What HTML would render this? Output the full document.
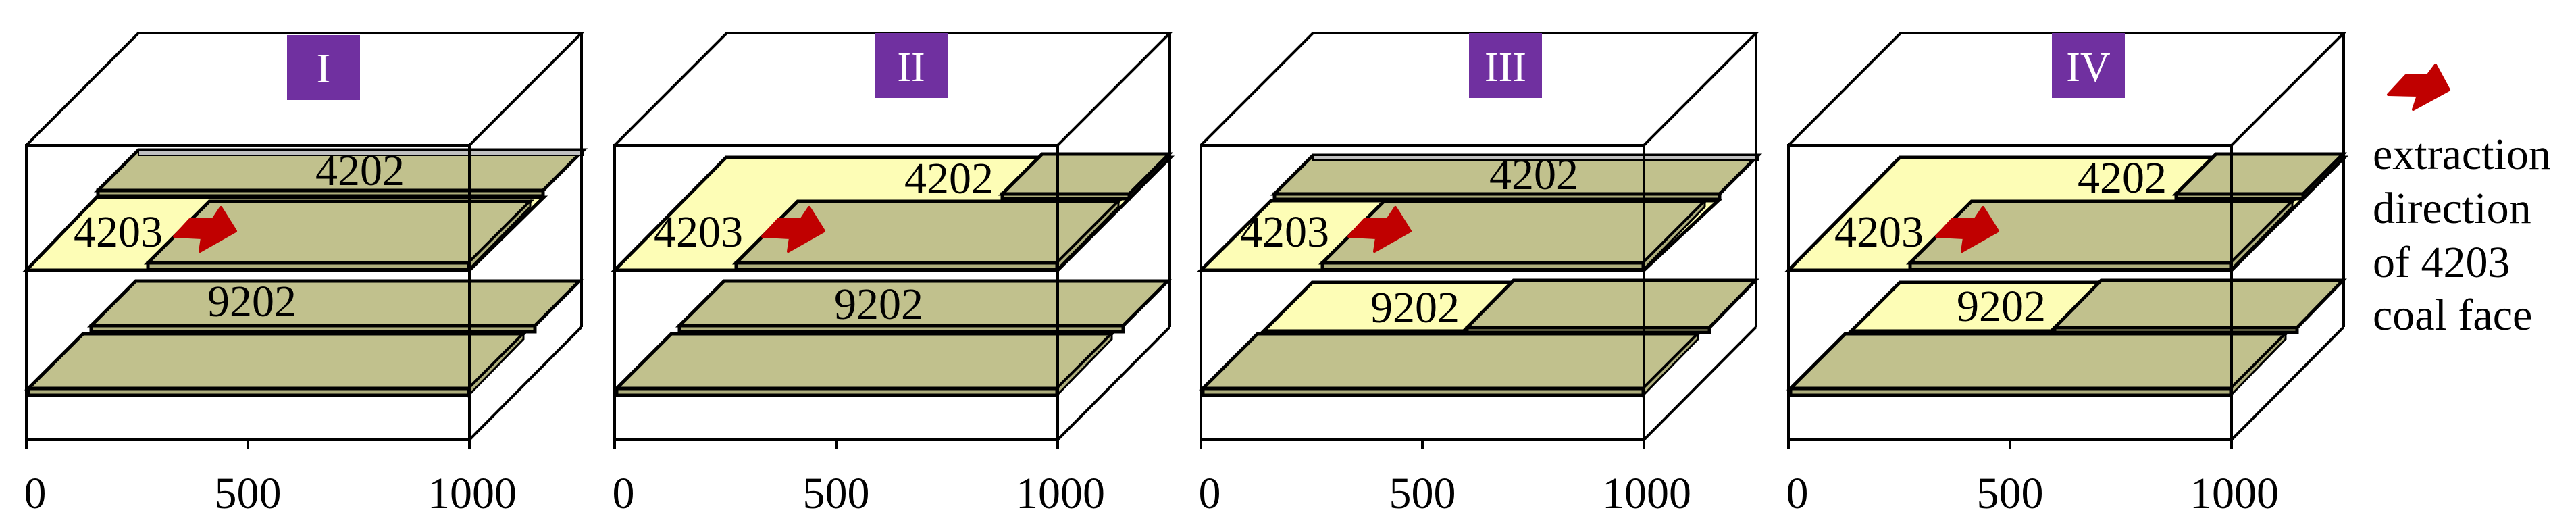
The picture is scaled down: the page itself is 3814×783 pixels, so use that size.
<!DOCTYPE html>
<html><head><meta charset="utf-8"><style>
html,body{margin:0;padding:0;background:#fff;font-family:"Liberation Serif","Times New Roman",serif;}
svg{display:block;font-family:"Liberation Serif","Times New Roman",serif;}
svg text{font-family:"Liberation Serif","Times New Roman",serif !important;}
</style></head><body>
<svg width="3814" height="783" viewBox="0 0 3814 783" xmlns="http://www.w3.org/2000/svg" font-family="Liberation Serif, Times New Roman, serif">
<defs>
<g id="bottom">
  <polygon points="123,494 775,494 694,575 42,575" fill="#c1c18d" stroke="#000" stroke-width="5"/>
  <rect x="42" y="575" width="652" height="10" fill="#aeae7c" stroke="#000" stroke-width="5"/>
  <polygon points="694,575 775,494 775,502 694,585" fill="#aeae7c" stroke="#000" stroke-width="3"/>
</g>
<g id="slab4203">
  <polygon points="310,298 785,298 694,389 219,389" fill="#c1c18d" stroke="#000" stroke-width="5"/>
  <rect x="219" y="389" width="475" height="10" fill="#aeae7c" stroke="#000" stroke-width="5"/>
  <polygon points="694,389 785,298 785,306 694,399" fill="#aeae7c" stroke="#000" stroke-width="3"/>
</g>
<polygon id="arrow" points="281,325 258,350 299,352 296,372 349,342 327,307 315,325" fill="#c00000" stroke="#c00000" stroke-width="4" stroke-linejoin="round"/>
<g id="frame" fill="none" stroke="#000" stroke-width="4">
  <rect x="39" y="215" width="656" height="436"/>
  <polyline points="39,215 205,49 861,49 695,215"/>
  <line x1="861" y1="49" x2="861" y2="484"/>
  <line x1="695" y1="651" x2="861" y2="484"/>
  <line x1="39" y1="651" x2="39" y2="665"/>
  <line x1="367" y1="651" x2="367" y2="665"/>
  <line x1="695" y1="651" x2="695" y2="665"/>
</g>
<g id="axis" font-size="66" text-anchor="middle" fill="#000" font-family="Liberation Serif, serif">
  <text x="52" y="752">0</text>
  <text x="367" y="752">500</text>
  <text x="699" y="752">1000</text>
</g>
</defs>

<!-- Panel I -->
<g font-family="Liberation Serif, serif">
  <polygon points="205,222 864,222 804,282 145,282" fill="#c1c18d" stroke="#000" stroke-width="5"/>
  <rect x="205" y="222" width="659" height="8" fill="#c0c0c0" stroke="#000" stroke-width="2"/>
  <rect x="145" y="282" width="659" height="8" fill="#aeae7c" stroke="#000" stroke-width="5"/>
  <polygon points="143,292 805,292 695,400 39,400" fill="#fdfdb6" stroke="#000" stroke-width="5"/>
  <use href="#slab4203"/>
  <polygon points="201,416 858,416 792,482 135,482" fill="#c1c18d" stroke="#000" stroke-width="5"/>
  <rect x="135" y="482" width="657" height="9" fill="#aeae7c" stroke="#000" stroke-width="5"/>
  <use href="#bottom"/>
  <use href="#arrow"/>
  <use href="#frame"/>
  <use href="#axis"/>
  <rect x="425" y="52" width="108" height="96" fill="#7030a0"/>
  <text x="479" y="122" font-size="62" fill="#fff" text-anchor="middle">I</text>
  <text x="533" y="274" font-size="66" text-anchor="middle">4202</text>
  <text x="175" y="365" font-size="66" text-anchor="middle">4203</text>
  <text x="373" y="468" font-size="66" text-anchor="middle">9202</text>
</g>

<!-- Panel II -->
<g transform="translate(871,0)" font-family="Liberation Serif, serif">
  <polygon points="204,233 862,233 695,400 39,400" fill="#fdfdb6" stroke="#000" stroke-width="5"/>
  <polygon points="672,228 860,228 801,287 613,287" fill="#c1c18d" stroke="#000" stroke-width="5"/>
  <rect x="613" y="287" width="188" height="7" fill="#aeae7c" stroke="#000" stroke-width="5"/>
  <use href="#slab4203"/>
  <polygon points="201,416 858,416 792,482 135,482" fill="#c1c18d" stroke="#000" stroke-width="5"/>
  <rect x="135" y="482" width="657" height="9" fill="#aeae7c" stroke="#000" stroke-width="5"/>
  <use href="#bottom"/>
  <use href="#arrow"/>
  <use href="#frame"/>
  <use href="#axis"/>
  <rect x="424" y="49" width="108" height="96" fill="#7030a0"/>
  <text x="478" y="120" font-size="62" fill="#fff" text-anchor="middle">II</text>
  <text x="534" y="286" font-size="66" text-anchor="middle">4202</text>
  <text x="163" y="365" font-size="66" text-anchor="middle">4203</text>
  <text x="430" y="472" font-size="66" text-anchor="middle">9202</text>
</g>

<!-- Panel III -->
<g transform="translate(1739,0)" font-family="Liberation Serif, serif">
  <polygon points="205,230 864,230 807,287 148,287" fill="#c1c18d" stroke="#000" stroke-width="5"/>
  <rect x="205" y="230" width="659" height="7" fill="#c0c0c0" stroke="#000" stroke-width="2"/>
  <rect x="148" y="287" width="659" height="8" fill="#aeae7c" stroke="#000" stroke-width="5"/>
  <polygon points="143,297 805,297 695,400 39,400" fill="#fdfdb6" stroke="#000" stroke-width="5"/>
  <use href="#slab4203"/>
  <polygon points="204,418 502,418 433,490 132,490" fill="#fdfdb6" stroke="#000" stroke-width="5"/>
  <polygon points="502,415 860,415 792,485 433,485" fill="#c1c18d" stroke="#000" stroke-width="5"/>
  <rect x="433" y="485" width="359" height="7" fill="#aeae7c" stroke="#000" stroke-width="5"/>
  <use href="#bottom"/>
  <use href="#arrow"/>
  <use href="#frame"/>
  <use href="#axis"/>
  <rect x="436" y="49" width="108" height="96" fill="#7030a0"/>
  <text x="490" y="120" font-size="62" fill="#fff" text-anchor="middle">III</text>
  <text x="532" y="280" font-size="66" text-anchor="middle">4202</text>
  <text x="163" y="365" font-size="66" text-anchor="middle">4203</text>
  <text x="356" y="477" font-size="66" text-anchor="middle">9202</text>
</g>

<!-- Panel IV -->
<g transform="translate(2609,0)" font-family="Liberation Serif, serif">
  <polygon points="204,233 862,233 695,400 39,400" fill="#fdfdb6" stroke="#000" stroke-width="5"/>
  <polygon points="672,228 860,228 801,287 613,287" fill="#c1c18d" stroke="#000" stroke-width="5"/>
  <rect x="613" y="287" width="188" height="7" fill="#aeae7c" stroke="#000" stroke-width="5"/>
  <use href="#slab4203"/>
  <polygon points="204,418 502,418 433,490 132,490" fill="#fdfdb6" stroke="#000" stroke-width="5"/>
  <polygon points="502,415 860,415 792,485 433,485" fill="#c1c18d" stroke="#000" stroke-width="5"/>
  <rect x="433" y="485" width="359" height="7" fill="#aeae7c" stroke="#000" stroke-width="5"/>
  <use href="#bottom"/>
  <use href="#arrow"/>
  <use href="#frame"/>
  <use href="#axis"/>
  <rect x="429" y="49" width="108" height="96" fill="#7030a0"/>
  <text x="483" y="120" font-size="62" fill="#fff" text-anchor="middle">IV</text>
  <text x="533" y="285" font-size="66" text-anchor="middle">4202</text>
  <text x="173" y="365" font-size="66" text-anchor="middle">4203</text>
  <text x="354" y="475" font-size="66" text-anchor="middle">9202</text>
</g>

<!-- Legend -->
<polygon points="3562,112 3536,140 3580,141 3573,162 3626,133 3606,96 3594,112" fill="#c00000" stroke="#c00000" stroke-width="4" stroke-linejoin="round"/>
<g font-size="66" fill="#000" font-family="Liberation Serif, serif">
  <text x="3513" y="250">extraction</text>
  <text x="3513" y="330">direction</text>
  <text x="3513" y="410">of 4203</text>
  <text x="3513" y="488">coal face</text>
</g>
</svg>
</body></html>
